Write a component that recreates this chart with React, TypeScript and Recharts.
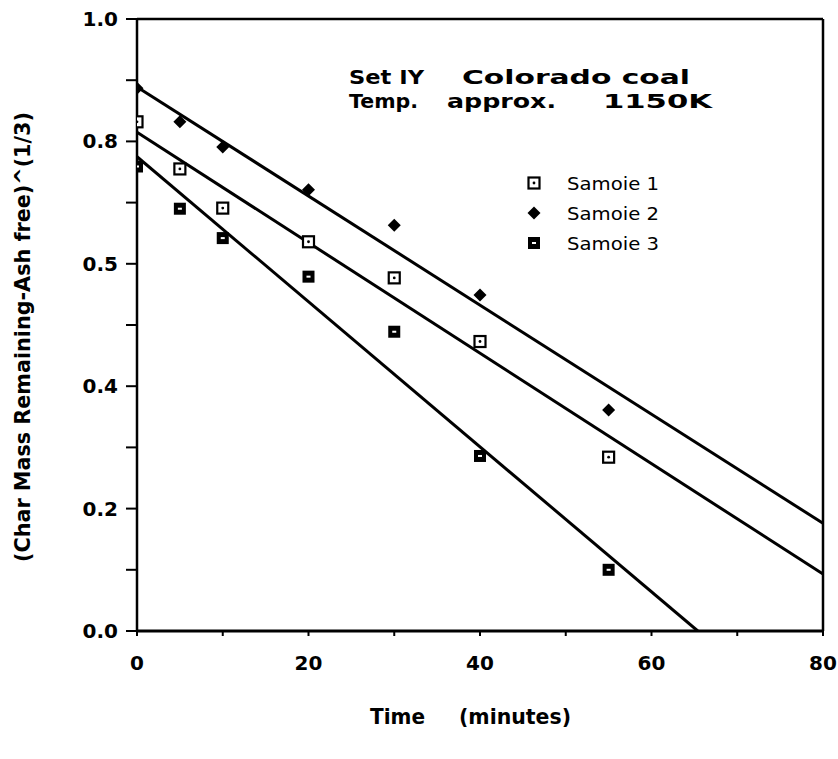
import { ScatterChart, Scatter, XAxis, YAxis, ReferenceLine, Customized } from "recharts";

const minutes = [0, 5, 10, 20, 30, 40, 55];
const sample1 = [0.832, 0.755, 0.691, 0.636, 0.577, 0.473, 0.284];
const sample2 = [0.887, 0.832, 0.791, 0.721, 0.663, 0.549, 0.361];
const sample3 = [0.759, 0.69, 0.642, 0.579, 0.489, 0.286, 0.1];

// fitted lines (end points)
const fit1X = [0, 80];
const fit1Y = [0.815, 0.093];
const fit2X = [0, 80];
const fit2Y = [0.889, 0.176];
const fit3X = [0, 65.4];
const fit3Y = [0.775, 0];

const xTicks = [0, 10, 20, 30, 40, 50, 60, 70, 80];
const xTickLabels: Record<number, string> = { 0: "0", 20: "20", 40: "40", 60: "60", 80: "80" };
const yTicks = [0, 0.1, 0.2, 0.3, 0.4, 0.5, 0.6, 0.7, 0.8, 0.9, 1.0];
const yTickLabels: Record<string, string> = {
  "0.0": "0.0",
  "0.2": "0.2",
  "0.4": "0.4",
  "0.6": "0.5",
  "0.8": "0.8",
  "1.0": "1.0",
};
const legendNames = ["Samoie 1", "Samoie 2", "Samoie 3"];

const toPoints = (xs: number[], ys: number[]) => xs.map((x, i) => ({ x, y: ys[i] }));

const FONT = "'DejaVu Sans', sans-serif";

const OpenSquare = ({ cx, cy }: any) => (
  <g>
    <rect x={cx - 5.5} y={cy - 5.5} width={11} height={11} fill="#fff" stroke="#000" strokeWidth={2.2} />
    <circle cx={cx} cy={cy} r={1.4} fill="#000" />
  </g>
);

const Diamond = ({ cx, cy }: any) => (
  <polygon points={`${cx},${cy - 6.5} ${cx + 6.5},${cy} ${cx},${cy + 6.5} ${cx - 6.5},${cy}`} fill="#000" />
);

const HeavySquare = ({ cx, cy }: any) => (
  <g>
    <rect x={cx - 6} y={cy - 6} width={12} height={12} fill="#000" />
    <rect x={cx - 2} y={cy - 1} width={4} height={2} fill="#fff" />
  </g>
);

const NoDot = () => <g />;

const markers = [OpenSquare, Diamond, HeavySquare];

const YTick = ({ x, y, payload }: any) => {
  const label = yTickLabels[payload.value.toFixed(1)];
  if (!label) return <g />;
  return (
    <text x={x} y={y} textAnchor="end" dominantBaseline="central" fontFamily={FONT} fontSize={20} fontWeight="bold" fill="#000">
      {label}
    </text>
  );
};

const XTick = ({ x, y, payload }: any) => {
  const label = xTickLabels[payload.value];
  if (label === undefined) return <g />;
  return (
    <text x={x} y={y} dy="0.71em" textAnchor="middle" fontFamily={FONT} fontSize={20} fontWeight="bold" fill="#000">
      {label}
    </text>
  );
};

const Annotations = () => (
  <g fontFamily={FONT} fill="#000">
    <text x={349} y={84} fontSize={20} fontWeight="bold" textLength={75} lengthAdjust="spacingAndGlyphs">Set IY</text>
    <text x={462} y={84} fontSize={20} fontWeight="bold" textLength={228} lengthAdjust="spacingAndGlyphs">Colorado coal</text>
    <text x={349} y={108} fontSize={20} fontWeight="bold" textLength={69} lengthAdjust="spacingAndGlyphs">Temp.</text>
    <text x={447} y={108} fontSize={20} fontWeight="bold" textLength={109} lengthAdjust="spacingAndGlyphs">approx.</text>
    <text x={603} y={108} fontSize={20} fontWeight="bold" textLength={109} lengthAdjust="spacingAndGlyphs">1150K</text>

    {legendNames.map((name, i) => {
      const M = markers[i];
      const cy = [183, 213, 243][i];
      return (
        <g key={name}>
          <M cx={534} cy={cy} />
          <text x={567} y={cy} dominantBaseline="central" fontSize={18} textLength={92} lengthAdjust="spacingAndGlyphs">
            {name}
          </text>
        </g>
      );
    })}

    <text
      transform="translate(30 337) rotate(-90)"
      textAnchor="middle"
      fontSize={21}
      fontWeight="bold"
      textLength={450}
      lengthAdjust="spacingAndGlyphs"
    >
      (Char Mass Remaining-Ash free)^(1/3)
    </text>
    <text x={370} y={724} fontSize={21} fontWeight="bold" textLength={55} lengthAdjust="spacingAndGlyphs">Time</text>
    <text x={459} y={724} fontSize={21} fontWeight="bold" textLength={112} lengthAdjust="spacingAndGlyphs">(minutes)</text>
  </g>
);

export default function App() {
  const series = [sample1, sample2, sample3];
  const fits = [toPoints(fit1X, fit1Y), toPoints(fit2X, fit2Y), toPoints(fit3X, fit3Y)];
  return (
    <div style={{ position: "absolute", left: 0, top: 0, background: "#fff" }}>
      <ScatterChart width={838} height={759} margin={{ top: 19, right: 15, bottom: 0, left: 0 }}>
        <XAxis
          type="number"
          dataKey="x"
          domain={[0, 80]}
          ticks={xTicks}
          height={128}
          axisLine={{ stroke: "#000", strokeWidth: 3 }}
          tickLine={{ stroke: "#000", strokeWidth: 2 }}
          tickSize={5}
          tickMargin={20}
          tick={<XTick />}
          allowDataOverflow
        />
        <YAxis
          type="number"
          dataKey="y"
          domain={[0, 1]}
          ticks={yTicks}
          width={137}
          axisLine={{ stroke: "#000", strokeWidth: 2.5 }}
          tickLine={{ stroke: "#000", strokeWidth: 2 }}
          tickSize={11}
          tickMargin={8}
          tick={<YTick />}
          allowDataOverflow
        />
        <ReferenceLine y={1} stroke="#000" strokeWidth={2.5} />
        <ReferenceLine x={80} stroke="#000" strokeWidth={2.5} />
        {fits.map((pts, i) => (
          <Scatter
            key={`fit${i}`}
            data={pts}
            line={{ stroke: "#000", strokeWidth: 3 }}
            shape={<NoDot />}
            isAnimationActive={false}
          />
        ))}
        {series.map((vals, i) => {
          const M = markers[i];
          return (
            <Scatter
              key={`s${i}`}
              name={legendNames[i]}
              data={toPoints(minutes, vals)}
              shape={<M />}
              isAnimationActive={false}
            />
          );
        })}
        <Customized component={<Annotations />} />
      </ScatterChart>
    </div>
  );
}
